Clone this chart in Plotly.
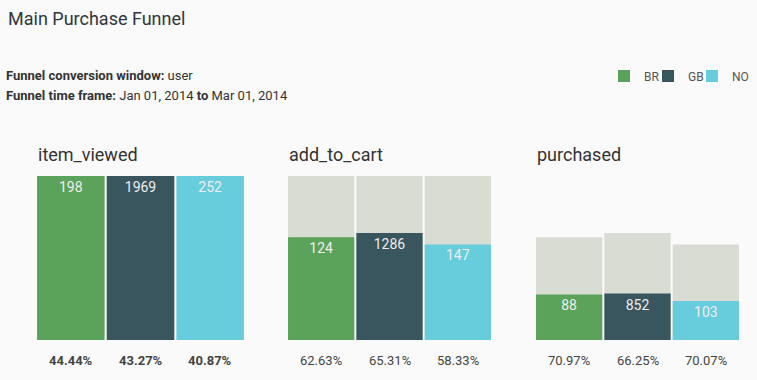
import plotly.graph_objects as go

steps = ["item_viewed", "add_to_cart", "purchased"]
countries = ["BR", "GB", "NO"]
colors = ["#5ba25a", "#39555d", "#67ccdb"]
grey = "#d8dcd2"

# counts per step for each country
counts_BR = [198, 124, 88]
counts_GB = [1969, 1286, 852]
counts_NO = [252, 147, 103]

# percentage labels shown below each bar (per step, per country)
pct_item_viewed = [44.44, 43.27, 40.87]
pct_add_to_cart = [62.63, 65.31, 58.33]
pct_purchased = [70.97, 66.25, 70.07]

# relative bar heights (% of first step) as drawn
height_item_viewed = [100, 100, 100]
height_add_to_cart = [62.6, 65.3, 58.3]
height_purchased = [27.8, 28.3, 23.8]

counts = [counts_BR, counts_GB, counts_NO]
pcts = [pct_item_viewed, pct_add_to_cart, pct_purchased]
heights = [height_item_viewed, height_add_to_cart, height_purchased]

W, H = 757, 380
x_domains = [(36, 245), (287, 492), (535, 740)]
y_bottom, y_top = 340, 176
ydom = [(H - y_bottom) / H, (H - y_top) / H]
legend_ids = ["legend", "legend2", "legend3"]

fig = go.Figure()
font_family = "Roboto, Arial, sans-serif"

for s, step in enumerate(steps):
    ax = "" if s == 0 else str(s + 1)
    # grey background = previous step height
    if s > 0:
        fig.add_trace(go.Bar(
            x=countries, y=heights[s - 1], marker=dict(color=grey, line=dict(width=0)),
            xaxis="x" + ax, yaxis="y" + ax, showlegend=False, hoverinfo="skip",
        ))
    for c, country in enumerate(countries):
        fig.add_trace(go.Bar(
            x=[country], y=[heights[s][c]], name=country,
            marker=dict(color=colors[c], line=dict(width=0)),
            text=[str(counts[c][s])], textposition="inside", insidetextanchor="end",
            textangle=0, constraintext="none",
            insidetextfont=dict(color="#eeeeee", size=14, family=font_family),
            xaxis="x" + ax, yaxis="y" + ax,
            showlegend=(s == 0), legendgroup=country, legend=legend_ids[c],
        ))
    # step title
    fig.add_annotation(text=step, xref="x" + ax + " domain", x=0.0, xanchor="left", xshift=0,
                       yref="paper", y=(H - 154) / H, yanchor="middle", showarrow=False,
                       font=dict(size=18, color="#333333", family=font_family))
    # percentages below
    for c, country in enumerate(countries):
        t = f"{pcts[s][c]:.2f}%"
        if s == 0:
            t = "<b>" + t + "</b>"
        fig.add_annotation(text=t, xref="x" + ax, x=country, yref="paper", y=(H - 360) / H,
                           yanchor="middle", showarrow=False,
                           font=dict(size=13, color="#444444", family=font_family))

layout_axes = {}
for s in range(3):
    ax = "" if s == 0 else str(s + 1)
    layout_axes["xaxis" + ax] = dict(domain=[x_domains[s][0] / W, x_domains[s][1] / W],
                                     showticklabels=False, showgrid=False, zeroline=False,
                                     showline=False, anchor="y" + ax, fixedrange=True)
    layout_axes["yaxis" + ax] = dict(domain=ydom, range=[0, 100], showticklabels=False,
                                     showgrid=False, zeroline=False, showline=False,
                                     anchor="x" + ax, fixedrange=True)

legend_left = [604, 648, 692]
for c, lid in enumerate(legend_ids):
    layout_axes[lid] = dict(orientation="h", x=legend_left[c] / W, xanchor="left", xref="paper",
                            y=(H - 76) / H, yanchor="middle",
                            font=dict(size=12, color="#555555"),
                            bgcolor="rgba(0,0,0,0)")

fig.update_layout(
    width=W, height=H, margin=dict(l=0, r=0, t=0, b=0),
    paper_bgcolor="#fafafa", plot_bgcolor="#fafafa",
    barmode="overlay", bargap=0.03,
    font=dict(family=font_family, color="#333333"),
    showlegend=True,
    **layout_axes,
)

fig.add_annotation(text="Main Purchase Funnel", xref="paper", x=6 / W, xanchor="left",
                   yref="paper", y=(H - 18) / H, yanchor="middle", showarrow=False,
                   font=dict(size=18, color="#2f3640", family=font_family))
fig.add_annotation(text="<b>Funnel conversion window:</b> user", xref="paper", x=4 / W,
                   xanchor="left", yref="paper", y=(H - 76) / H, yanchor="middle",
                   showarrow=False, font=dict(size=13, color="#333333", family=font_family))
fig.add_annotation(text="<b>Funnel time frame:</b> Jan 01, 2014 <b>to</b> Mar 01, 2014",
                   xref="paper", x=4 / W, xanchor="left", yref="paper", y=(H - 95) / H,
                   yanchor="middle", showarrow=False,
                   font=dict(size=13, color="#333333", family=font_family))

fig.write_html("out.html", config={"displayModeBar": False},
               post_script="document.body.style.margin='0';")
